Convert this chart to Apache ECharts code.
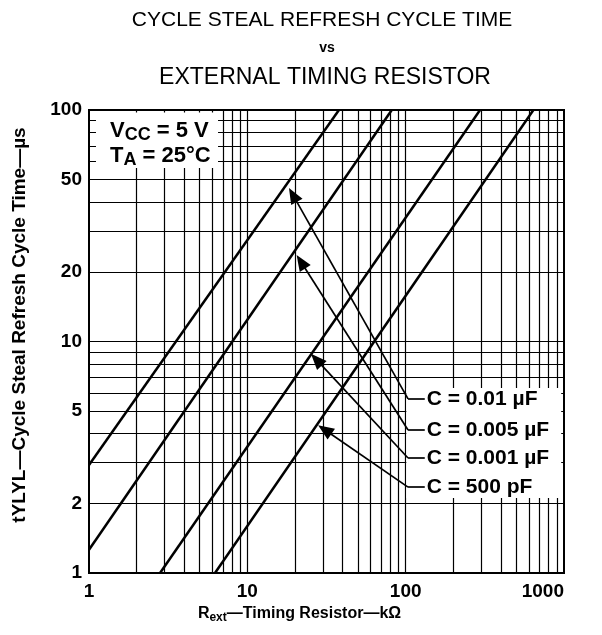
<!DOCTYPE html>
<html>
<head>
<meta charset="utf-8">
<script src="https://cdn.jsdelivr.net/npm/echarts@6.0.0/dist/echarts.min.js"></script>
<style>
html,body{margin:0;padding:0;background:#fff;}
#chart{width:602px;height:635px;}
</style>
</head>
<body>
<div id="chart"></div>
<script>
// ---- data ----
const xTickValues = [1, 10, 100, 1000];
const yTickValues = [1, 2, 5, 10, 20, 50, 100];
const xGridValues = [2,3,4,5,6,7,8,9,10,20,30,40,50,60,70,80,90,100,200,300,400,500,600,700,800,900];
const yGridValues = [2,3,4,5,6,7,8,9,10,20,30,40,50,60,70,80,90];
const seriesNames = ['C = 0.01 µF', 'C = 0.005 µF', 'C = 0.001 µF', 'C = 500 pF'];
const curve001uF  = [[1, 2.93], [37.9, 100]];
const curve0005uF = [[1, 1.26], [81.7, 100]];
const curve0001uF = [[2.81, 1], [295, 100]];
const curve500pF  = [[6.25, 1], [641, 100]];
const arrowPoints = [[19.4, 43.0], [21.8, 22.1], [27.3, 8.35], [30.8, 4.16]];
const labelKnees  = [[103.5, 5.65], [103.5, 4.15], [103.5, 3.14], [103.5, 2.35]];
const labelStubEndX = 132;
const condBox = [[1.107, 56.2], [6.53, 97.5]];
const labelBox = [[101, 2.11], [960, 6.3]];

const FONT = '"Liberation Sans", Arial, Helvetica, sans-serif';
const curves = [curve001uF, curve0005uF, curve0001uF, curve500pF];

const chart = echarts.init(document.getElementById('chart'), null, {renderer: 'canvas'});

const leaderData = [];
arrowPoints.forEach((p, i) => {
  leaderData.push([
    {coord: p, symbol: 'triangle', symbolSize: [13, 16], label: {show: false}},
    {coord: labelKnees[i], symbol: 'none', label: {show: false}}
  ]);
  leaderData.push([
    {coord: labelKnees[i], symbol: 'none'},
    {coord: [labelStubEndX, labelKnees[i][1]], symbol: 'none',
     label: {show: true, position: 'end', distance: 2, formatter: seriesNames[i],
             color: '#000', fontFamily: FONT, fontWeight: 'bold', fontSize: 21}}
  ]);
});

const option = {
  animation: false,
  backgroundColor: '#fff',
  graphic: [
    {type: 'text', x: 322, y: 20, z: 50, style: {text: 'CYCLE STEAL REFRESH CYCLE TIME', font: '21px ' + FONT, fill: '#000', align: 'center', verticalAlign: 'middle', textAlign: 'center', textVerticalAlign: 'middle'}},
    {type: 'text', x: 327, y: 48, z: 50, style: {text: 'vs', font: 'bold 14px ' + FONT, fill: '#000', align: 'center', verticalAlign: 'middle', textAlign: 'center', textVerticalAlign: 'middle'}},
    {type: 'text', x: 325, y: 78, z: 50, style: {text: 'EXTERNAL TIMING RESISTOR', font: '23px ' + FONT, fill: '#000', align: 'center', verticalAlign: 'middle', textAlign: 'center', textVerticalAlign: 'middle'}}
  ],
  grid: {left: 89, right: 38, top: 110, bottom: 62, show: true, z: 4,
         borderColor: '#000', borderWidth: 2, backgroundColor: 'transparent'},
  xAxis: {
    type: 'log', logBase: 10, min: 1, max: 1000,
    axisLine: {show: true, lineStyle: {color: '#000', width: 2}},
    axisTick: {show: false},
    splitLine: {show: false},
    axisLabel: {color: '#000', fontFamily: FONT, fontWeight: 'bold', fontSize: 19, margin: 9,
                customValues: xTickValues, alignMaxLabel: 'right',
                formatter: v => String(+(+v).toPrecision(6))},
    name: '{b|R}{s|ext}{b|—Timing Resistor—kΩ}',
    nameLocation: 'middle', nameGap: 28,
    nameTextStyle: {padding: [0, 54, 0, 0],
      rich: {b: {fontSize: 16, fontWeight: 'bold', color: '#000', fontFamily: FONT, lineHeight: 20},
             s: {fontSize: 12, fontWeight: 'bold', color: '#000', fontFamily: FONT, verticalAlign: 'bottom'}}}
  },
  yAxis: {
    type: 'log', logBase: 10, min: 1, max: 100,
    axisLine: {show: true, lineStyle: {color: '#000', width: 2}},
    axisTick: {show: false},
    splitLine: {show: false},
    axisLabel: {color: '#000', fontFamily: FONT, fontWeight: 'bold', fontSize: 19, margin: 7,
                customValues: yTickValues,
                formatter: v => String(+(+v).toPrecision(6))},
    name: 'tYLYL—Cycle Steal Refresh Cycle Time—µs',
    nameLocation: 'middle', nameGap: 60,
    nameTextStyle: {color: '#000', fontFamily: FONT, fontWeight: 'bold', fontSize: 19, padding: [0, 0, 0, 33]}
  },
  series: [
    ...curves.map((c, i) => ({
      type: 'line', name: seriesNames[i], data: c, symbol: 'none', showSymbol: false,
      lineStyle: {color: '#000', width: 2.5}, z: 10, silent: true
    })),
    {
      type: 'line', name: 'grid', data: [], silent: true,
      markLine: {silent: true, z: 1, animation: false, symbol: ['none', 'none'],
        label: {show: false}, lineStyle: {color: '#000', width: 1.2, type: 'solid'},
        emphasis: {disabled: true},
        data: [...xGridValues.map(v => ({xAxis: v})), ...yGridValues.map(v => ({yAxis: v}))]}
    },
    {
      type: 'line', name: 'boxes', data: [], silent: true,
      markArea: {silent: true, z: 2, animation: false, itemStyle: {color: '#fff', opacity: 1},
        emphasis: {disabled: true},
        data: [
          [{coord: condBox[0], label: {show: true, position: [14, 6],
              formatter: '{b|V}{s|CC}{b| = 5 V}\n{b|T}{s|A}{b| = 25°C}',
              rich: {b: {fontSize: 22, fontWeight: 'bold', color: '#000', fontFamily: FONT, lineHeight: 25},
                     s: {fontSize: 18, fontWeight: 'bold', color: '#000', fontFamily: FONT, verticalAlign: 'bottom'}}}},
           {coord: condBox[1]}],
          [{coord: labelBox[0], label: {show: false}}, {coord: labelBox[1]}]
        ]}
    },
    {
      type: 'line', name: 'leaders', data: [], silent: true,
      markLine: {silent: true, z: 6, animation: false,
        lineStyle: {color: '#000', width: 1.7, type: 'solid'},
        itemStyle: {color: '#000'},
        emphasis: {disabled: true},
        data: leaderData}
    }
  ]
};
chart.setOption(option);
</script>
</body>
</html>
